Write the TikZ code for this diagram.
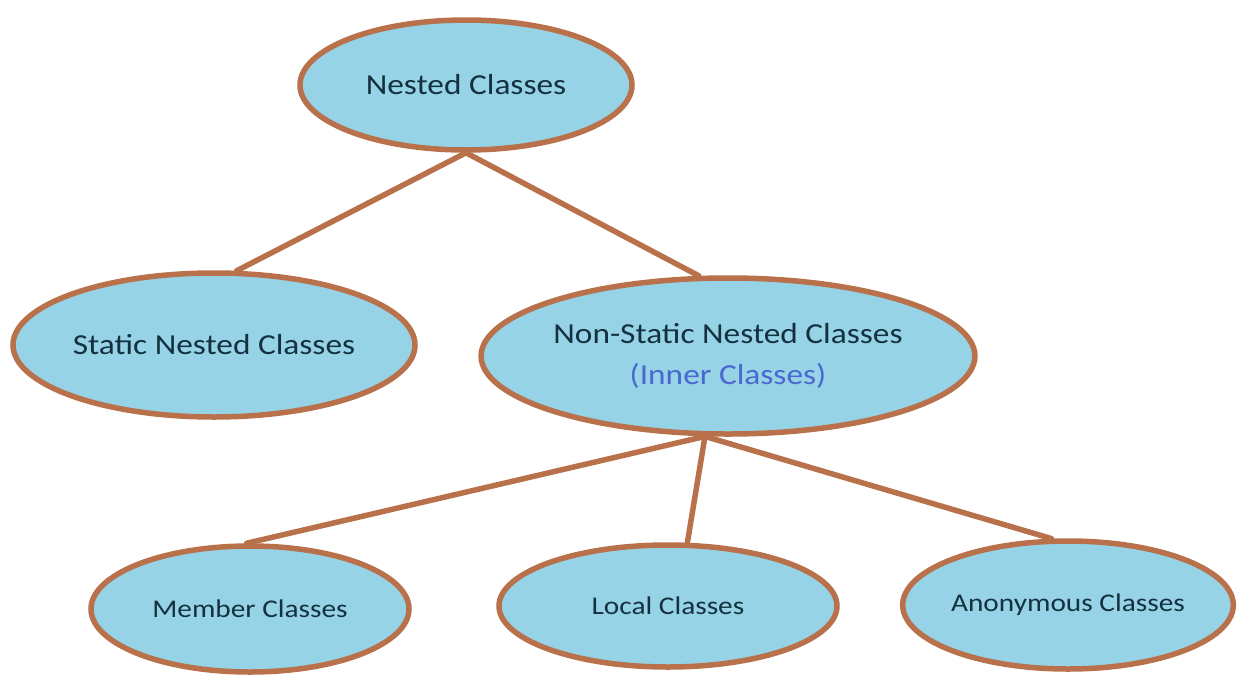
\documentclass[tikz,border=0pt]{standalone}
\usepackage{fontspec}
\setmainfont{Carlito}[FakeStretch=1.15]
\usetikzlibrary{shapes.geometric}
\definecolor{ovalfill}{HTML}{96D3E6}
\definecolor{ovaledge}{HTML}{B8714A}
\definecolor{ovaltext}{HTML}{143140}
\definecolor{innerblue}{HTML}{4A68D0}
\tikzset{
  oval/.style={ellipse, draw=ovaledge, fill=ovalfill, line width=5.5pt, inner sep=0pt, text=ovaltext, align=center},
  big/.style={font=\fontsize{29}{41}\selectfont},
  small/.style={font=\fontsize{25.5}{30}\selectfont},
  link/.style={draw=ovaledge, line width=5.5pt, line cap=round}
}
\begin{document}
\begin{tikzpicture}[x=1pt,y=-1pt]
\useasboundingbox (0,0) rectangle (1245,675);
\node[oval,big,minimum width=332pt,minimum height=130pt] (nc) at (466,85) {Nested Classes};
\node[oval,big,minimum width=402pt,minimum height=144pt] (snc) at (214,345) {Static Nested Classes};
\node[oval,big,minimum width=473pt,minimum height=156pt] (ns) at (728,356) {Non-Static Nested Classes\\\textcolor{innerblue}{(Inner Classes)}};
\node[oval,small,minimum width=318pt,minimum height=126pt] (mem) at (250,609) {Member Classes};
\node[oval,small,minimum width=338pt,minimum height=122pt] (loc) at (668,606) {Local Classes};
\node[oval,small,minimum width=325pt,minimum height=128pt] (ano) at (1068,605) {Anonymous Classes};
\draw[link] (nc.south) -- (snc.73);
\draw[link] (nc.south) -- (ns.110);
\draw[link] (ns.254) -- (mem.93);
\draw[link] (ns.254) -- (loc.73);
\draw[link] (ns.254) -- (ano.104);
\end{tikzpicture}
\end{document}
